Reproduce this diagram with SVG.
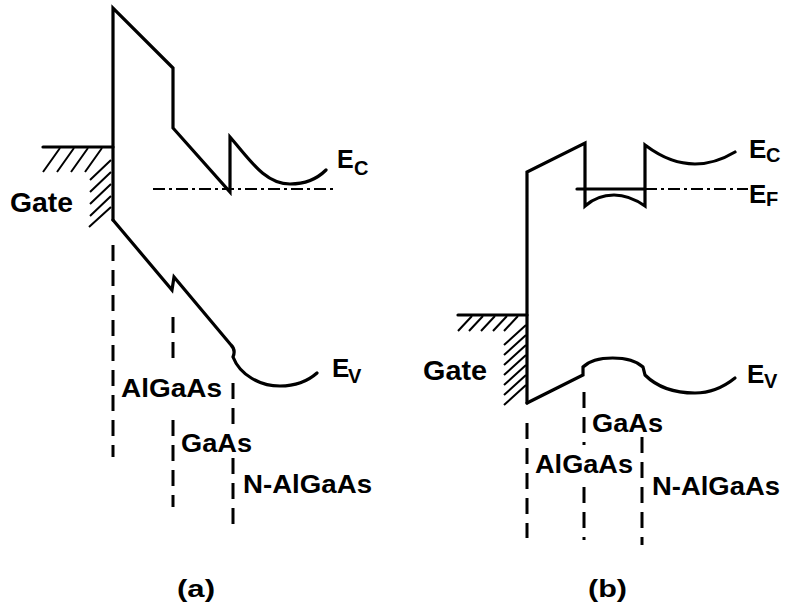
<svg xmlns="http://www.w3.org/2000/svg" width="786" height="610" viewBox="0 0 786 610">
<style>
.band{fill:none;stroke:#000;stroke-width:3.2;stroke-linejoin:miter;stroke-linecap:round}
.hatch{fill:none;stroke:#000;stroke-width:2}
.div{fill:none;stroke:#000;stroke-width:3;stroke-dasharray:16 9}
.ef{fill:none;stroke:#000;stroke-width:2.2;stroke-dasharray:12 4 3 4}
.lbl{font-family:"Liberation Sans",Arial,sans-serif;font-weight:bold;fill:#000}
</style>
<rect width="786" height="610" fill="#fff"/>

<!-- Panel (a) -->
<g id="panel-a">
  <g id="gate-a">
    <line class="band" x1="43" y1="147" x2="113" y2="147"/>
    <path class="hatch" d="M60,148 L43,172 M74,148 L57,172 M88,148 L71,172 M102,148 L85,172 M111,160 L90,180 M111,172 L90,192 M111,184 L90,204 M111,196 L90,216 M111,207 L89,227"/>
    <text class="lbl" x="10" y="212" font-size="27" textLength="63" lengthAdjust="spacingAndGlyphs">Gate</text>
  </g>
  <g id="ec-a">
    <path class="band" d="M113,220 L113,8 L173,68 L173,128 L230,192 L230,137 C250,160 265,184 290,184 C305,184 318,178 326,170"/>
    <text class="lbl" x="337" y="168" font-size="25">E</text>
    <text class="lbl" x="354" y="175" font-size="20">C</text>
  </g>
  <g id="ef-a">
    <line class="ef" x1="153" y1="189" x2="333" y2="189"/>
  </g>
  <g id="ev-a">
    <path class="band" d="M113,220 L172,290 L174,277 L231,345 Q236,350 233,357 C240,375 260,386 280,386 C295,386 308,381 317,373"/>
    <text class="lbl" x="332" y="377" font-size="26">E</text>
    <text class="lbl" x="348" y="383" font-size="20">V</text>
  </g>
  <g id="layers-a">
    <text class="lbl" x="121" y="397" font-size="25" textLength="101" lengthAdjust="spacingAndGlyphs">AlGaAs</text>
    <text class="lbl" x="181" y="452" font-size="25" textLength="71" lengthAdjust="spacingAndGlyphs">GaAs</text>
    <text class="lbl" x="243" y="493" font-size="25" textLength="129" lengthAdjust="spacingAndGlyphs">N-AlGaAs</text>
  </g>
  <text class="lbl" x="177" y="597" font-size="24" textLength="38" lengthAdjust="spacingAndGlyphs">(a)</text>
</g>

<!-- Panel (b) -->
<g id="panel-b">
  <g id="gate-b">
    <line class="band" x1="458" y1="315" x2="527" y2="315"/>
    <path class="hatch" d="M472,316 L458,331 M483,316 L469,331 M495,316 L481,331 M507,316 L493,331 M518,316 L504,331 M526,325 L504,345 M526,335 L504,355 M526,345 L504,365 M526,355 L504,375 M526,365 L504,385 M526,375 L504,395 M526,385 L504,405"/>
    <text class="lbl" x="423" y="380" font-size="27" textLength="64" lengthAdjust="spacingAndGlyphs">Gate</text>
  </g>
  <g id="ec-b">
    <path class="band" d="M527,403 L527,172 L585,143 L585,206 C595,197 605,195 614,195 C625,195 635,199 645,206 L645,145 C665,160 680,164 695,164 C712,164 725,158 735,152"/>
    <text class="lbl" x="749" y="158" font-size="26">E</text>
    <text class="lbl" x="766" y="162" font-size="20">C</text>
  </g>
  <g id="ef-b">
    <line class="band" x1="577" y1="189" x2="645" y2="189" stroke-width="2.5"/>
    <line class="ef" x1="645" y1="189" x2="748" y2="189"/>
    <text class="lbl" x="749" y="203" font-size="26">E</text>
    <text class="lbl" x="766" y="206" font-size="20">F</text>
  </g>
  <g id="ev-b">
    <path class="band" d="M527,403 L583,375 L583,367 C595,355 630,355 643,367 L645,375 C660,390 680,393 695,393 C712,393 725,386 735,378"/>
    <text class="lbl" x="747" y="383" font-size="26">E</text>
    <text class="lbl" x="764" y="388" font-size="20">V</text>
  </g>
  <g id="layers-b">
    <text class="lbl" x="592" y="432" font-size="25" textLength="71" lengthAdjust="spacingAndGlyphs">GaAs</text>
    <text class="lbl" x="535" y="473" font-size="25" textLength="98" lengthAdjust="spacingAndGlyphs">AlGaAs</text>
    <text class="lbl" x="652" y="495" font-size="25" textLength="128" lengthAdjust="spacingAndGlyphs">N-AlGaAs</text>
  </g>
  <text class="lbl" x="588" y="597" font-size="24" textLength="39" lengthAdjust="spacingAndGlyphs">(b)</text>
</g>

<!-- Region boundaries (dashed connectors) -->
<g id="connectors">
  <line class="div" x1="113" y1="245" x2="113" y2="457"/>
  <line class="div" x1="173" y1="317" x2="173" y2="367"/>
  <line class="div" x1="173" y1="420" x2="173" y2="507"/>
  <line class="div" x1="233" y1="383" x2="233" y2="430"/>
  <line class="div" x1="233" y1="458" x2="233" y2="525"/>
  <line class="div" x1="527" y1="423" x2="527" y2="538"/>
  <line class="div" x1="584" y1="392" x2="584" y2="445"/>
  <line class="div" x1="584" y1="487" x2="584" y2="540"/>
  <line class="div" x1="642" y1="437" x2="642" y2="545"/>
</g>
</svg>
